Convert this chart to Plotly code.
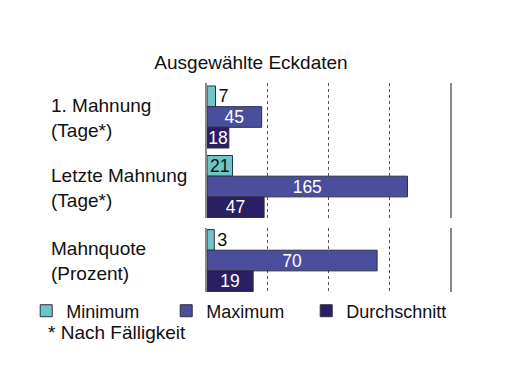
import plotly.graph_objects as go

# ---- data ----
categories_tage = ["1. Mahnung<br>(Tage*)", "Letzte Mahnung<br>(Tage*)"]
categories_prozent = ["Mahnquote<br>(Prozent)"]
minimum_tage = [7, 21]
maximum_tage = [45, 165]
durchschnitt_tage = [18, 47]
minimum_prozent = [3]
maximum_prozent = [70]
durchschnitt_prozent = [19]
series_names = ["Minimum", "Maximum", "Durchschnitt"]
title_text = "Ausgewählte Eckdaten"
footnote_text = "* Nach Fälligkeit"

colors = ["#6fc5c6", "#4a4e9c", "#2a1f63"]
text_colors = ["#111111", "#ffffff", "#ffffff"]
border = "#2e2e4a"
FONT = "Liberation Sans, Arial, sans-serif"

fig = go.Figure()

top_series = [minimum_tage, maximum_tage, durchschnitt_tage]
bot_series = [minimum_prozent, maximum_prozent, durchschnitt_prozent]


def add_group(cats, series, xa, ya, show, outside_below):
    for i, name in enumerate(series_names):
        vals = series[i]
        if i == 0:
            tpos = ["outside" if v < outside_below else "inside" for v in vals]
        else:
            tpos = "inside"
        fig.add_trace(go.Bar(
            y=cats, x=vals, orientation="h", name=name,
            marker=dict(color=colors[i], line=dict(color=border, width=1)),
            text=[str(v) for v in vals], textposition=tpos,
            insidetextanchor="middle", constraintext="none",
            insidetextfont=dict(color=text_colors[i], size=17.5, family=FONT),
            outsidetextfont=dict(color="#111111", size=18, family=FONT),
            textangle=0, cliponaxis=False,
            legendgroup=name, showlegend=show,
            xaxis=xa, yaxis=ya,
        ))


add_group(categories_tage, top_series, "x", "y", True, 15)
add_group(categories_prozent, bot_series, "x2", "y2", False, 8)

xcommon = dict(showticklabels=False, ticks="",
               showgrid=True, gridcolor="#555555", griddash="dot", gridwidth=1,
               zeroline=False, showline=False, fixedrange=True)
ycommon = dict(showticklabels=False, ticks="", showgrid=False, zeroline=False,
               showline=True, mirror=True, linecolor="#8a8a8a", linewidth=1.5,
               fixedrange=True)

annotations = []
for c in categories_tage:
    annotations.append(dict(text=c, xref="paper", yref="y", x=-0.652, y=c,
                            xanchor="left", yanchor="middle", align="left",
                            showarrow=False, yshift=-1,
                            font=dict(size=19, family=FONT, color="#111111")))
for c in categories_prozent:
    annotations.append(dict(text=c, xref="paper", yref="y2", x=-0.652, y=c,
                            xanchor="left", yanchor="middle", align="left",
                            showarrow=False,
                            font=dict(size=19, family=FONT, color="#111111")))
annotations.append(dict(text=footnote_text, xref="paper", yref="paper",
                        x=-0.662, y=-0.196, xanchor="left", yanchor="middle",
                        showarrow=False,
                        font=dict(size=19, family=FONT, color="#111111")))

# page body adds an 8px offset; figure is sized/positioned to compensate
fig.update_layout(
    width=498, height=372,
    margin=dict(l=199, r=56, t=75, b=88, pad=0, autoexpand=False),
    paper_bgcolor="white", plot_bgcolor="white",
    barmode="group", bargap=0.108, bargroupgap=0,
    title=dict(text=title_text, x=(251 - 8) / 498, xref="container",
               xanchor="center", y=1 - 54 / 372, yref="container",
               yanchor="middle",
               font=dict(size=19, family=FONT, color="#111111")),
    xaxis=dict(domain=[0, 1], anchor="y", range=[0, 200], dtick=50, **xcommon),
    xaxis2=dict(domain=[0, 1], anchor="y2", range=[0, 100], dtick=25, **xcommon),
    yaxis=dict(domain=[0.354, 1], anchor="x", range=[1.453, -0.489], **ycommon),
    yaxis2=dict(domain=[0, 0.306], anchor="x2", range=[0.453, -0.468], **ycommon),
    legend=dict(orientation="h", x=-0.744, y=-0.091, xanchor="left",
                yanchor="middle", entrywidth=95, entrywidthmode="pixels",
                font=dict(size=18, family=FONT, color="#111111"),
                traceorder="normal", bgcolor="rgba(0,0,0,0)"),
    annotations=annotations,
    showlegend=True,
)

fig.write_html("out.html")
